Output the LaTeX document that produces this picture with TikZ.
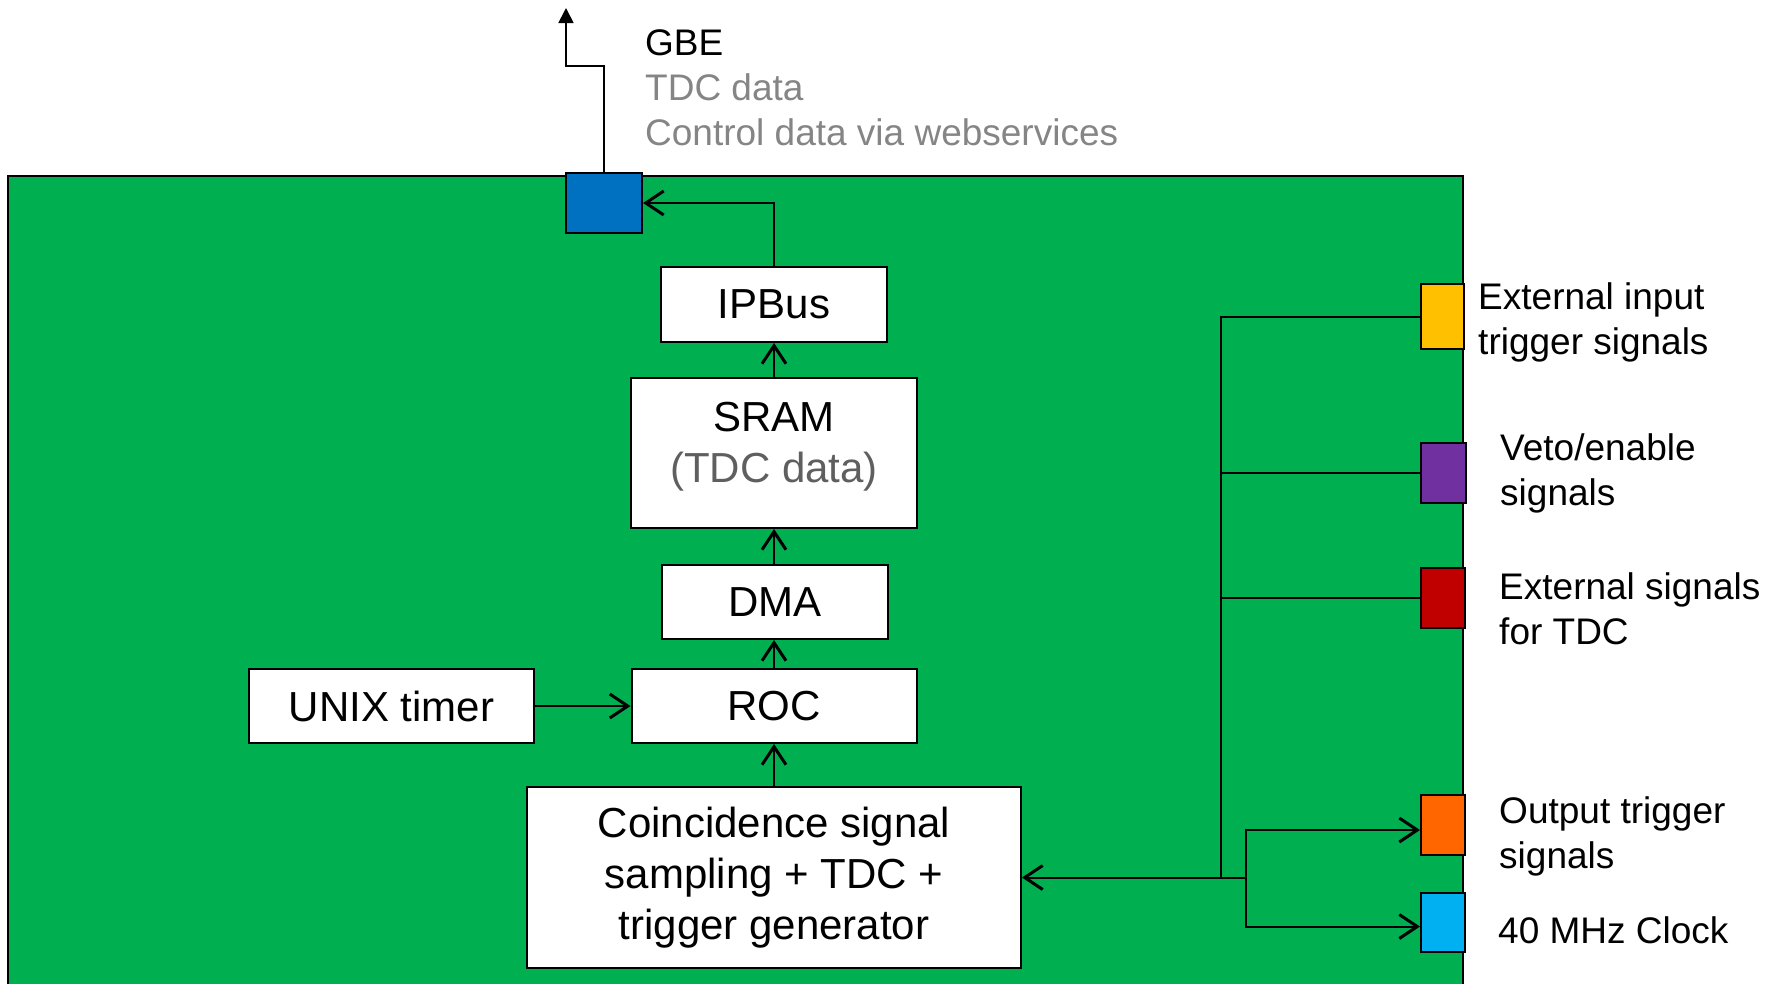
\documentclass[tikz,border=0pt]{standalone}
\usepackage{fontspec}
\setmainfont{Liberation Sans}
\usetikzlibrary{arrows.meta,calc}
\definecolor{boardgreen}{HTML}{00B050}
\definecolor{gbeblue}{HTML}{0070C0}
\definecolor{portyellow}{HTML}{FFC000}
\definecolor{portpurple}{HTML}{7030A0}
\definecolor{portred}{HTML}{C00000}
\definecolor{portorange}{HTML}{FF6600}
\definecolor{portcyan}{HTML}{00B0F0}
\definecolor{lightgraytext}{HTML}{858585}
\definecolor{darkgraytext}{HTML}{5F5F5F}
\begin{document}
\begin{tikzpicture}[x=1pt,y=-1pt,
  box/.style={draw=black, line width=2pt, fill=white, inner sep=0pt, align=center,
    font=\fontsize{42}{51}\selectfont},
  port/.style={draw=black, line width=2pt, inner sep=0pt},
  wire/.style={line width=2pt},
  arr/.style={wire, -{Straight Barb[length=18pt,width=24pt,line width=3pt]}},
  lbl/.style={anchor=base west, align=left, inner sep=0pt, font=\fontsize{37}{45}\selectfont},
]
\useasboundingbox (0,0) rectangle (1781,983);
% board
\draw[fill=boardgreen, line width=1.5pt] (8,176) rectangle (1463,1000);

% GBE port and external link
\node[port, fill=gbeblue, minimum width=76pt, minimum height=60pt] (gbe) at (604,203) {};
\coordinate (gbeturn) at (566,66);
\coordinate (gbetip) at (566,8);
\draw[line width=1.8pt, -{Triangle[length=15pt,width=15pt]}] (gbe.north) |- (gbeturn) -- (gbetip);
\node[lbl] (gbetext) at (645,145) {GBE\\{\color{lightgraytext}TDC data}\\{\color{lightgraytext}Control data via webservices}};

% internal blocks
\node[box, minimum width=226pt, minimum height=75pt] (ipbus) at (774,304.5) {IPBus};
\node[box, minimum width=286pt, minimum height=150pt, text depth=21pt] (sram) at (774,453) {SRAM\\{\color{darkgraytext}(TDC data)}};
\node[box, minimum width=226pt, minimum height=74pt] (dma) at (775,602) {DMA};
\node[box, minimum width=285pt, minimum height=74pt] (roc) at (774,706) {ROC};
\node[box, minimum width=285pt, minimum height=74pt] (unix) at (391.5,706) {UNIX timer};
\node[box, minimum width=494pt, minimum height=181pt] (coinc) at (774,877.5) {Coincidence signal\\sampling + TDC +\\trigger generator};

\draw[arr] (ipbus.north) |- (gbe.east);
\draw[arr] (sram) -- (ipbus);
\draw[arr] (dma.north -| sram) -- (sram.south);
\draw[arr] (roc) -- (roc |- dma.south);
\draw[arr] (coinc) -- (roc);
\draw[arr] (unix) -- (roc);

% side ports
\node[port, fill=portyellow, minimum width=43pt, minimum height=65pt] (yellow) at (1442.5,316.5) {};
\node[port, fill=portpurple, minimum width=45pt, minimum height=60pt] (purple) at (1443.5,473) {};
\node[port, fill=portred, minimum width=44pt, minimum height=60pt] (red) at (1443,598) {};
\node[port, fill=portorange, minimum width=44pt, minimum height=60pt] (orange) at (1443,825) {};
\node[port, fill=portcyan, minimum width=44pt, minimum height=59pt] (cyan) at (1443,922.5) {};

\node[lbl] (lyellow) at (1478,354) {External input\\trigger signals};
\node[lbl] (lpurple) at (1500,505) {Veto/enable\\signals};
\node[lbl] (lred) at (1499,644) {External signals\\for TDC};
\node[lbl] (lorange) at (1499,868) {Output trigger\\signals};
\node[lbl] (lcyan) at (1498,943) {40 MHz Clock};

% bus wiring
\coordinate (bus) at (1221,877.5);
\coordinate (split) at (1246,877.5);
\draw[wire] (yellow.west) -| (bus);
\draw[wire] (purple.west) -- (purple.west -| bus);
\draw[wire] (red.west) -- (red.west -| bus);
\draw[arr] (split) -- (coinc.east);
\draw[arr] (split) |- ([yshift=-5pt]orange.west);
\draw[arr] (split) |- ([yshift=-4pt]cyan.west);
\end{tikzpicture}
\end{document}
